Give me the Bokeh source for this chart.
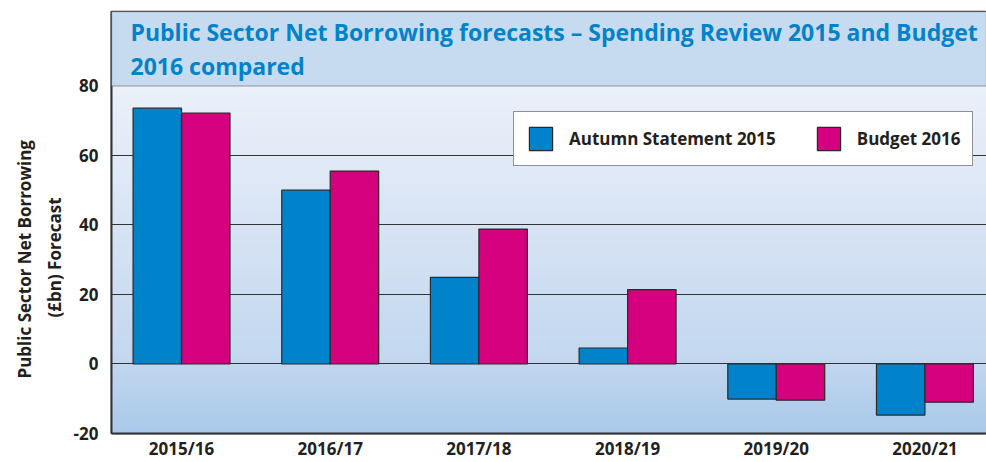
import numpy as np
from bokeh.plotting import figure
from bokeh.models import (Range1d, FixedTicker, Legend, LegendItem, Label, BoxAnnotation, Title)
from bokeh.embed import file_html
from bokeh.resources import INLINE

# ---- data ----
categories = ["2015/16", "2016/17", "2017/18", "2018/19", "2019/20", "2020/21"]
autumn_statement_2015 = [73.6, 50.0, 24.9, 4.6, -10.1, -14.7]
budget_2016 = [72.2, 55.5, 38.8, 21.4, -10.4, -11.0]
y_ticks = [-20, 0, 20, 40, 60, 80]
y_tick_labels = ["-20", "0", "20", "40", "60", "80"]
grid_ticks = [0, 20, 40, 60]

title_text = "Public Sector Net Borrowing forecasts \u2013 Spending Review 2015 and Budget\n2016 compared"
y_label_line1 = "Public Sector Net Borrowing"
y_label_line2 = "(\u00a3bn) Forecast"

BLUE = "#0083CA"
MAGENTA = "#D5007D"
DARK = "#231F20"
FONT = "Open Sans"

x_idx = list(range(len(categories)))
bw = 0.326
X0, X1 = -0.471, 5.414

p = figure(width=986, height=462, output_backend="svg", toolbar_location=None,
           x_range=Range1d(X0, X1), y_range=Range1d(-20, 101.4),
           min_border_left=111, min_border_right=0, min_border_top=11, min_border_bottom=29)

p.background_fill_color = "#E4ECF7"
p.border_fill_color = "white"
p.outline_line_color = "#333333"
p.outline_line_width = 1.5

# gradient background of the plotting area (-20..80)
n = 200
ys = np.linspace(-20, 80, n)
stops_y = [-20, 0, 40, 80]
stops_c = np.array([[170, 201, 234], [194, 215, 239], [216, 228, 245], [236, 241, 250]])
rgba = np.zeros((n, 1), dtype=np.uint32)
view = rgba.view(dtype=np.uint8).reshape((n, 1, 4))
for k in range(3):
    view[:, 0, k] = np.interp(ys, stops_y, stops_c[:, k]).astype(np.uint8)
view[:, 0, 3] = 255
p.image_rgba(image=[rgba], x=X0, y=-20, dw=X1 - X0, dh=100, level="image")

# bars
x_a = [i - bw / 2 for i in x_idx]
x_b = [i + bw / 2 for i in x_idx]
r1 = p.vbar(x=x_a, top=autumn_statement_2015, bottom=0, width=bw, fill_color=BLUE,
            line_color="#2a2a2a", line_width=1.2)
r2 = p.vbar(x=x_b, top=budget_2016, bottom=0, width=bw, fill_color=MAGENTA,
            line_color="#2a2a2a", line_width=1.2)

# grid
p.xgrid.visible = False
p.ygrid.ticker = FixedTicker(ticks=grid_ticks)
p.ygrid.grid_line_color = "#333333"
p.ygrid.grid_line_width = 1

# axes
for ax in (p.xaxis[0], p.yaxis[0]):
    ax.major_tick_line_color = None
    ax.minor_tick_line_color = None
    ax.major_tick_out = 0
    ax.major_tick_in = 0
    ax.minor_tick_out = 0
    ax.axis_line_color = "#333333"
    ax.axis_line_width = 2
    ax.major_label_text_font = FONT
    ax.major_label_text_font_style = "bold"
    ax.major_label_text_font_size = "17px"
    ax.major_label_text_color = DARK

p.yaxis.ticker = FixedTicker(ticks=y_ticks)
p.yaxis.major_label_overrides = {t: s for t, s in zip(y_ticks, y_tick_labels)}
p.yaxis.major_label_standoff = 13
p.xaxis.ticker = FixedTicker(ticks=x_idx)
p.xaxis.major_label_overrides = {i: c for i, c in zip(x_idx, categories)}
p.xaxis.major_label_standoff = 3

# y axis label as two left-side titles (centred on the -20..80 part)
t2 = Title(text=y_label_line2, align="left", offset=116, standoff=10,
           text_font=FONT, text_font_style="bold", text_font_size="17px", text_color=DARK)
t1 = Title(text=y_label_line1, align="left", offset=55, standoff=0,
           text_font=FONT, text_font_style="bold", text_font_size="17px", text_color=DARK)
p.add_layout(t2, "left")
p.add_layout(t1, "left")

# title box
p.add_layout(BoxAnnotation(bottom=80, fill_color="#C6DBF0", fill_alpha=1,
                           line_color="#333333", line_width=1.5))
p.add_layout(Label(x=130, x_units="canvas", y=90.6, text=title_text,
                   text_font=FONT, text_font_style="bold", text_font_size="23px",
                   text_color=BLUE, text_baseline="middle", text_align="left",
                   text_line_height=1.05))

# legend
legend = Legend(items=[LegendItem(label="Autumn Statement 2015", renderers=[r1]),
                       LegendItem(label="Budget 2016", renderers=[r2])],
                orientation="horizontal", location=(402, 267),
                glyph_width=29, glyph_height=29, label_standoff=14, spacing=38,
                padding=12, margin=0,
                label_text_font=FONT, label_text_font_style="bold",
                label_text_font_size="17px", label_text_color=DARK,
                border_line_color="#222222", border_line_width=1.5,
                background_fill_color="white", background_fill_alpha=1)
p.add_layout(legend, "center")

open("out.html", "w").write(file_html(p, INLINE))
